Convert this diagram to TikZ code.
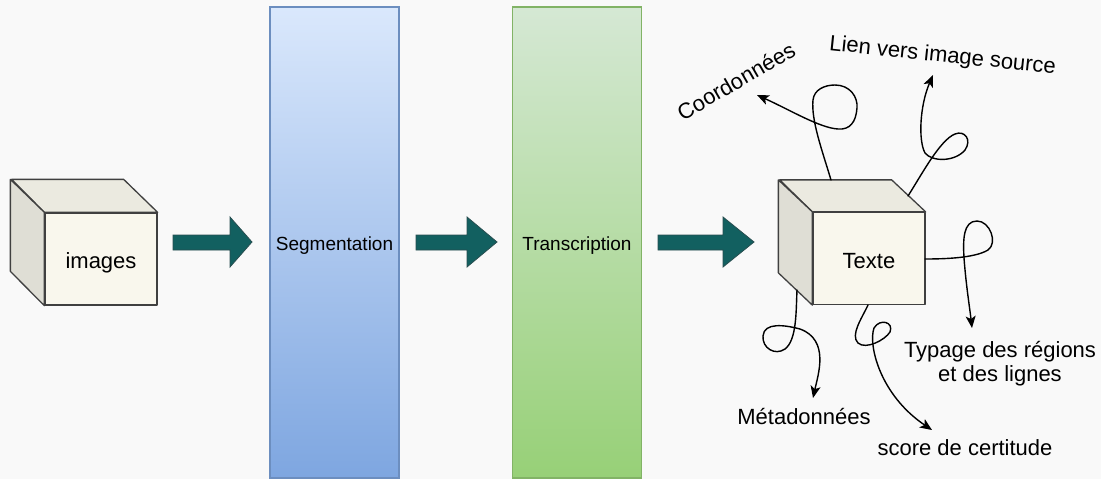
\documentclass[tikz,border=0pt]{standalone}
\usepackage{fontspec}
\setmainfont{Liberation Sans}
\usetikzlibrary{arrows.meta}
\definecolor{bg}{RGB}{249,249,249}
\definecolor{cubefront}{RGB}{249,247,237}
\definecolor{cubetop}{RGB}{235,234,224}
\definecolor{cubeside}{RGB}{223,222,213}
\definecolor{cubeline}{RGB}{64,64,64}
\definecolor{segtop}{RGB}{218,232,252}
\definecolor{segbot}{RGB}{126,166,224}
\definecolor{segline}{RGB}{108,142,191}
\definecolor{trtop}{RGB}{213,232,212}
\definecolor{trbot}{RGB}{151,208,119}
\definecolor{trline}{RGB}{130,179,102}
\definecolor{teal}{RGB}{18,96,96}
\definecolor{tealline}{RGB}{40,78,80}
\tikzset{
  cubeface/.style={draw=cubeline, line width=1.3pt, line join=round},
  cubefrontbox/.style={cubeface, fill=cubefront, rectangle, minimum width=112pt, minimum height=92pt, inner sep=0pt, font=\fontsize{22}{24}\selectfont, text depth=0pt},
  column/.style={rectangle, line width=1.2pt, minimum width=129pt, minimum height=471pt, inner sep=0pt, font=\fontsize{19}{22}\selectfont, text height=15pt, text depth=0pt},
  blockarrow/.style={fill=teal, draw=tealline, line width=0.8pt, line join=miter},
  lbl/.style={font=\fontsize{22}{24}\selectfont, inner sep=0pt},
  curve/.style={line width=1.4pt, line cap=round, -{Stealth[length=12pt,width=10pt,inset=3pt]}}
}
\begin{document}
\begin{tikzpicture}[x=1pt,y=-1pt]
\path[fill=bg, use as bounding box] (0,0) rectangle (1101,479);

% --- columns
\node[column, draw=segline, top color=segtop, bottom color=segbot] (seg) at (334.5,242.5) {Segmentation};
\node[column, draw=trline, top color=trtop, bottom color=trbot] (trans) at (577,242.5) {Transcription};

% --- left cube
\node[cubefrontbox, text height=18pt] (images) at (101,259) {images};
\draw[cubeface, fill=cubetop] (images.north west) -- (images.north east) -- ++(-34,-33) -- ++(-112,0) -- cycle;
\draw[cubeface, fill=cubeside] (images.north west) -- ++(-34,-33) -- ++(0,92) -- (images.south west) -- cycle;

% --- right cube
\node[cubefrontbox, text height=19pt] (texte) at (869,258.5) {Texte};
\draw[cubeface, fill=cubetop] (texte.north west) -- (texte.north east) -- ++(-34,-32) -- ++(-112,0) -- cycle;
\draw[cubeface, fill=cubeside] (texte.north west) -- ++(-34,-32) -- ++(0,93) -- (texte.south west) -- cycle;

% --- block arrows
\draw[blockarrow] (173,235) -- (230,235) -- (230,217) -- (252,242) -- (230,267) -- (230,250) -- (173,250) -- cycle;
\draw[blockarrow] (416,235) -- (467,235) -- (467,217) -- (497,242) -- (467,267) -- (467,250) -- (416,250) -- cycle;
\draw[blockarrow] (658,235) -- (723,235) -- (723,217) -- (754,242) -- (723,267) -- (723,250) -- (658,250) -- cycle;

% --- labels
\node[lbl, rotate=30, anchor=base] (coord) at (740,88) {Coordonnées};
\node[lbl, rotate=-6, anchor=base] (lien) at (942,62) {Lien vers image source};
\node[lbl, align=center, anchor=north] (typage) at (1000,341) {Typage des régions\\et des lignes};
\node[lbl, anchor=base] (meta) at (804,424) {Métadonnées};
\node[lbl, anchor=base] (score) at (965,455) {score de certitude};

% --- connector end points
\coordinate (c1s) at (831,180);
\coordinate (c1e) at (757,95);
\coordinate (c2s) at (908,196);
\coordinate (c2e) at (933,75);
\coordinate (c3s) at (925,259);
\coordinate (c3e) at (972,328);
\coordinate (c4s) at (797,290);
\coordinate (c4e) at (813,398);
\coordinate (c5s) at (868,305);
\coordinate (c5e) at (932,430);

% --- looped connectors
\draw[curve] (c1s) .. controls (822,150) and (811,120) .. (813,100)
  .. controls (814,90) and (824,85) .. (835,85)
  .. controls (850,85) and (858,97) .. (857,108)
  .. controls (856,122) and (850,130) .. (838,129)
  .. controls (820,128) and (790,110) .. (c1e);
\draw[curve] (c2s) .. controls (922,174) and (940,140) .. (955,134)
  .. controls (965,130) and (972,140) .. (965,150)
  .. controls (955,162) and (932,162) .. (925,153)
  .. controls (918,140) and (920,105) .. (c2e);
\draw[curve] (c3s) .. controls (945,259) and (975,258) .. (988,250)
  .. controls (998,243) and (990,221) .. (977,221)
  .. controls (963,221) and (963,240) .. (964,258)
  .. controls (966,285) and (970,310) .. (c3e);
\draw[curve] (c4s) .. controls (796,310) and (797,340) .. (785,349)
  .. controls (775,356) and (762,348) .. (763,336)
  .. controls (764,322) and (785,325) .. (800,329)
  .. controls (830,340) and (818,375) .. (c4e);
\draw[curve] (c5s) .. controls (862,318) and (850,335) .. (858,343)
  .. controls (866,350) and (885,340) .. (890,332)
  .. controls (894,322) and (880,318) .. (874,328)
  .. controls (868,345) and (880,395) .. (c5e);
\end{tikzpicture}
\end{document}
